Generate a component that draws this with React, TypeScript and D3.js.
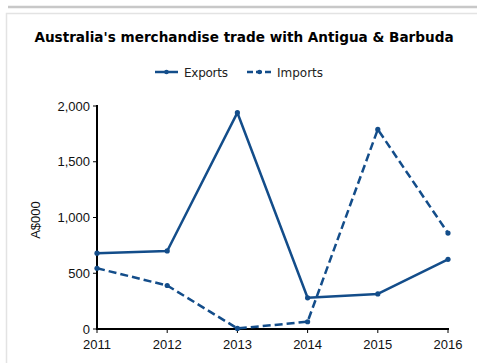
import React from "react";
import * as d3 from "d3";

const years = [2011, 2012, 2013, 2014, 2015, 2016];
const exportsValues = [680, 700, 1940, 280, 315, 625];
const importsValues = [545, 390, 5, 65, 1790, 860];
const yTicks = [0, 500, 1000, 1500, 2000];

const W = 477;
const H = 363;
const color = "#134d8a";

export default function App() {
  const x = d3.scalePoint<number>().domain(years).range([97, 448]);
  const y = d3.scaleLinear().domain([0, 2000]).range([329, 106]);
  const fmt = d3.format(",");

  const line = d3
    .line<number>()
    .x((_, i) => x(years[i]) as number)
    .y((d) => y(d));

  const series = [
    { name: "Exports", values: exportsValues, dash: undefined as string | undefined },
    { name: "Imports", values: importsValues, dash: "8,4" },
  ];

  return (
    <svg
      width={W}
      height={H}
      style={{ position: "absolute", left: 0, top: 0, background: "#fff" }}
    >
      {/* page frame */}
      <line x1={8} x2={W} y1={7} y2={7} stroke="#c8c8c8" strokeWidth={2.5} />
      <path d={`M6.5,${H} V13.5 H${W}`} fill="none" stroke="#e3e3e3" strokeWidth={1.5} />

      <text
        x={244}
        y={42}
        textAnchor="middle"
        fontFamily="DejaVu Sans, Verdana, sans-serif"
        fontWeight="bold"
        fontSize={13.6}
        fill="#000"
      >
        Australia's merchandise trade with Antigua &amp; Barbuda
      </text>

      {/* legend */}
      <g fontFamily="DejaVu Sans, Verdana, sans-serif" fontSize={12} fill="#222">
        <line x1={155} x2={178} y1={72} y2={72} stroke={color} strokeWidth={2.5} />
        <circle cx={166.5} cy={72} r={2.3} fill={color} />
        <text x={184} y={76.5} textLength={44}>Exports</text>
        <line x1={247} x2={272} y1={72} y2={72} stroke={color} strokeWidth={2.5} strokeDasharray="6,3" />
        <circle cx={259.5} cy={72} r={2.3} fill={color} />
        <text x={277} y={76.5} textLength={46}>Imports</text>
      </g>

      {/* axes labels */}
      <g fontFamily="Liberation Sans, Arial, sans-serif" fontSize={13} fill="#111">
        {yTicks.map((t) => (
          <g key={t}>
            <line x1={93} x2={97} y1={y(t)} y2={y(t)} stroke="#000" strokeWidth={1} />
            <text x={90} y={y(t) + 4.5} textAnchor="end">
              {fmt(t)}
            </text>
          </g>
        ))}
        {years.map((yr) => (
          <g key={yr}>
            <line x1={x(yr)} x2={x(yr)} y1={329} y2={333} stroke="#000" strokeWidth={1} />
            <text x={x(yr)} y={349} textAnchor="middle">
              {yr}
            </text>
          </g>
        ))}
        <text transform={`translate(40,220) rotate(-90)`} textAnchor="middle">
          A$000
        </text>
      </g>
      <line x1={97} x2={97} y1={105} y2={330} stroke="#000" strokeWidth={2} />
      <line x1={96} x2={449} y1={329} y2={329} stroke="#000" strokeWidth={2} />

      {series.map((s) => (
        <g key={s.name}>
          <path
            d={line(s.values) || ""}
            fill="none"
            stroke={color}
            strokeWidth={2.5}
            strokeDasharray={s.dash}
            strokeLinejoin="round"
          />
          {s.values.map((v, i) => (
            <circle key={i} cx={x(years[i])} cy={y(v)} r={2.6} fill={color} />
          ))}
        </g>
      ))}
    </svg>
  );
}
